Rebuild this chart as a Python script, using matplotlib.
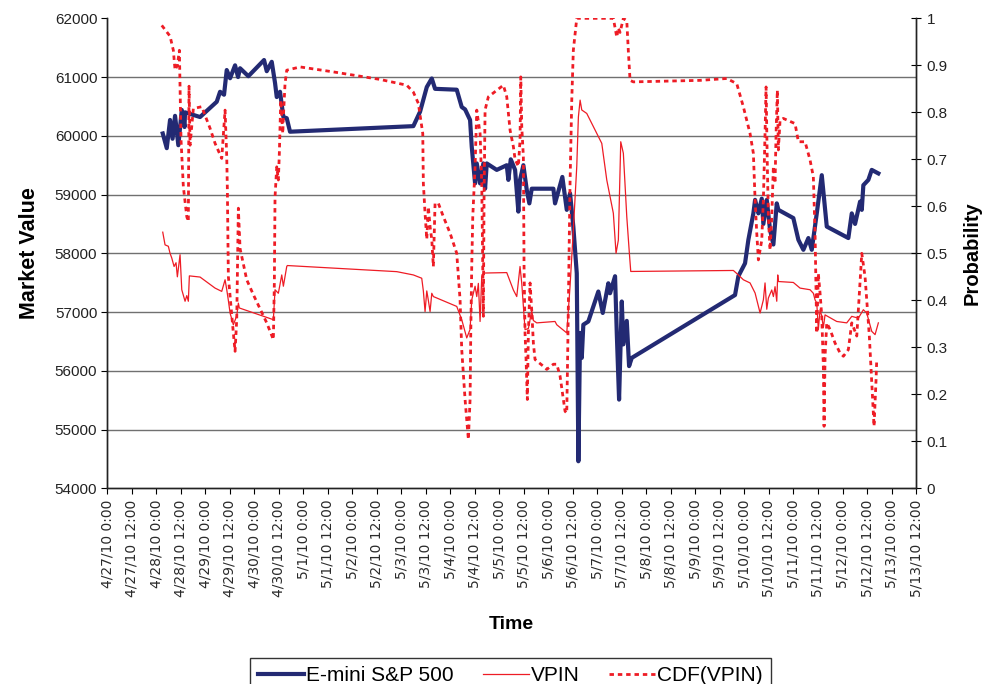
import numpy as np
import matplotlib
matplotlib.use("Agg")
import matplotlib.pyplot as plt
import pandas as pd
from matplotlib.ticker import FuncFormatter

plt.rcParams['font.family'] = ['Liberation Sans', 'DejaVu Sans']

# time axis: days since 4/27/10 0:00
start = pd.Timestamp("2010-04-27 00:00")
tick_times = pd.date_range(start, periods=34, freq="12h")
tick_labels = [f"{t.month}/{t.day}/{t.year % 100:02d} {t.hour}:{t.minute:02d}" for t in tick_times]

# E-mini S&P 500 (left axis)
emini_t = [1.136, 1.218, 1.285, 1.336, 1.387, 1.454, 1.524, 1.58, 1.59, 1.897,
           2.237, 2.305, 2.386, 2.441, 2.509, 2.611, 2.672, 2.713, 2.882, 3.202,
           3.257, 3.359, 3.426, 3.461, 3.528, 3.596, 3.665, 3.732, 6.247, 6.384,
           6.521, 6.623, 6.69, 7.132, 7.234, 7.302, 7.404, 7.438, 7.506, 7.54,
           7.608, 7.675, 7.71, 7.744, 7.948, 8.152, 8.185, 8.234, 8.322, 8.389,
           8.423, 8.491, 8.56, 8.613, 8.662, 9.103, 9.137, 9.286, 9.376, 9.443,
           9.51, 9.58, 9.613, 9.648, 9.682, 9.714, 9.816, 10.02, 10.11, 10.224,
           10.259, 10.361, 10.396, 10.443, 10.498, 10.53, 10.6, 10.647, 10.702, 12.808,
           12.876, 13.012, 13.08, 13.182, 13.217, 13.284, 13.353, 13.386, 13.455, 13.522,
           13.59, 13.659, 13.692, 13.997, 14.1, 14.202, 14.304, 14.373, 14.475, 14.577,
           14.679, 15.119, 15.189, 15.256, 15.358, 15.393, 15.425, 15.527, 15.596, 15.731]
emini_v = [60040, 59790, 60270, 59950, 60340, 59840, 60440, 60150, 60400, 60320,
           60580, 60750, 60700, 61120, 60980, 61200, 61000, 61150, 61015, 61290,
           61100, 61260, 60900, 60660, 60750, 60320, 60300, 60070, 60165, 60410,
           60830, 60976, 60800, 60785, 60490, 60450, 60270, 59815, 59190, 59530,
           59190, 59530, 59100, 59530, 59420, 59500, 59250, 59600, 59420, 58710,
           59250, 59500, 59080, 58850, 59100, 59100, 58850, 59300, 58740, 59020,
           58455, 57660, 54460, 56645, 56220, 56785, 56840, 57350, 56985, 57490,
           57320, 57610, 56645, 55510, 57180, 56450, 56850, 56080, 56220, 57290,
           57610, 57830, 58230, 58680, 58910, 58680, 58930, 58500, 58910, 58400,
           58150, 58850, 58740, 58600, 58230, 58060, 58260, 58060, 58680, 59330,
           58455, 58260, 58680, 58500, 58880, 58740, 59160, 59250, 59420, 59360]

# VPIN (right axis)
vpin_t = [1.136, 1.183, 1.25, 1.285, 1.32, 1.367, 1.407, 1.434, 1.489, 1.524,
          1.591, 1.626, 1.658, 1.679, 1.897, 2.203, 2.339, 2.407, 2.441, 2.474,
          2.509, 2.576, 2.645, 2.678, 2.698, 3.392, 3.426, 3.494, 3.563, 3.596,
          3.665, 3.677, 5.909, 6.247, 6.418, 6.451, 6.486, 6.521, 6.553, 6.588,
          6.623, 6.655, 7.132, 7.234, 7.336, 7.404, 7.438, 7.506, 7.54, 7.573,
          7.608, 7.642, 7.675, 8.152, 8.287, 8.356, 8.423, 8.458, 8.525, 8.593,
          8.662, 8.695, 8.764, 9.137, 9.172, 9.376, 9.443, 9.51, 9.58, 9.613,
          9.648, 9.682, 9.784, 10.09, 10.192, 10.326, 10.381, 10.428, 10.477, 10.53,
          10.6, 10.653, 10.681, 12.774, 12.876, 12.978, 13.114, 13.217, 13.319, 13.386,
          13.42, 13.455, 13.488, 13.557, 13.59, 13.624, 13.659, 13.679, 13.692, 13.997,
          14.134, 14.338, 14.405, 14.44, 14.475, 14.507, 14.542, 14.577, 14.609, 14.644,
          14.882, 15.086, 15.189, 15.323, 15.425, 15.494, 15.596, 15.664, 15.731]
vpin_p = [0.545, 0.518, 0.515, 0.50, 0.49, 0.472, 0.48, 0.45, 0.497, 0.4225,
          0.398, 0.41, 0.398, 0.452, 0.4495, 0.426, 0.419, 0.4437, 0.423, 0.40,
          0.373, 0.348, 0.367, 0.394, 0.3837, 0.3588, 0.4225, 0.415, 0.454, 0.430,
          0.472, 0.474, 0.461, 0.454, 0.447, 0.42, 0.376, 0.42, 0.40, 0.376,
          0.415, 0.408, 0.387, 0.3588, 0.32, 0.338, 0.401, 0.43, 0.408, 0.436,
          0.355, 0.451, 0.458, 0.459, 0.422, 0.408, 0.472, 0.436, 0.3376, 0.34,
          0.378, 0.357, 0.352, 0.355, 0.348, 0.3306, 0.43, 0.55, 0.685, 0.79,
          0.826, 0.805, 0.7976, 0.734, 0.656, 0.5853, 0.50, 0.528, 0.7374, 0.713,
          0.578, 0.50, 0.4614, 0.4635, 0.454, 0.4437, 0.437, 0.4155, 0.373, 0.401,
          0.437, 0.381, 0.405, 0.422, 0.408, 0.429, 0.398, 0.454, 0.44, 0.438,
          0.426, 0.4225, 0.415, 0.401, 0.394, 0.3376, 0.38, 0.366, 0.342, 0.369,
          0.355, 0.352, 0.3659, 0.362, 0.38, 0.373, 0.334, 0.327, 0.352]

# CDF(VPIN) (right axis)
cdf_t = [1.116, 1.285, 1.352, 1.387, 1.434, 1.475, 1.489, 1.509, 1.556, 1.626,
         1.658, 1.672, 1.693, 1.76, 1.931, 2.101, 2.203, 2.339, 2.407, 2.441,
         2.454, 2.474, 2.576, 2.611, 2.645, 2.678, 2.713, 2.849, 2.984, 3.257,
         3.392, 3.412, 3.426, 3.461, 3.494, 3.514, 3.543, 3.584, 3.596, 3.63,
         3.665, 3.936, 4.616, 5.568, 6.113, 6.247, 6.349, 6.439, 6.451, 6.486,
         6.521, 6.553, 6.588, 6.623, 6.655, 6.69, 6.757, 6.859, 6.996, 7.132,
         7.2, 7.234, 7.302, 7.369, 7.404, 7.418, 7.438, 7.459, 7.506, 7.54,
         7.608, 7.642, 7.663, 7.675, 7.689, 7.71, 7.777, 8.083, 8.152, 8.22,
         8.287, 8.322, 8.389, 8.423, 8.438, 8.458, 8.491, 8.505, 8.525, 8.546,
         8.572, 8.593, 8.627, 8.662, 8.695, 8.729, 8.899, 8.968, 9.103, 9.172,
         9.239, 9.307, 9.341, 9.376, 9.396, 9.423, 9.443, 9.478, 9.51, 9.58,
         10.326, 10.396, 10.428, 10.463, 10.53, 10.6, 10.632, 10.667, 10.734, 12.095,
         12.639, 12.843, 12.978, 13.114, 13.182, 13.217, 13.251, 13.284, 13.353, 13.386,
         13.42, 13.441, 13.467, 13.488, 13.522, 13.557, 13.59, 13.624, 13.645, 13.671,
         13.692, 13.726, 13.793, 14.032, 14.1, 14.236, 14.338, 14.405, 14.44, 14.475,
         14.507, 14.542, 14.577, 14.609, 14.624, 14.644, 14.679, 14.746, 14.848, 14.95,
         15.018, 15.119, 15.189, 15.291, 15.393, 15.46, 15.494, 15.547, 15.596, 15.643,
         15.684, 15.698]
cdf_p = [0.985, 0.962, 0.932, 0.89, 0.90, 0.932, 0.854, 0.741, 0.642, 0.578,
         0.5676, 0.8556, 0.73, 0.808, 0.812, 0.766, 0.734, 0.702, 0.8047, 0.7056,
         0.635, 0.451, 0.33, 0.2915, 0.36, 0.596, 0.51, 0.4437, 0.412, 0.352,
         0.3164, 0.437, 0.62, 0.684, 0.656, 0.713, 0.8259, 0.755, 0.79, 0.861,
         0.8896, 0.8966, 0.886, 0.87, 0.8577, 0.843, 0.819, 0.755, 0.649, 0.585,
         0.53, 0.599, 0.557, 0.529, 0.472, 0.6065, 0.6065, 0.578, 0.543, 0.50,
         0.401, 0.295, 0.189, 0.104, 0.189, 0.33, 0.472, 0.578, 0.684, 0.8047,
         0.755, 0.649, 0.472, 0.366, 0.614, 0.805, 0.833, 0.8577, 0.833, 0.762,
         0.727, 0.70, 0.685, 0.741, 0.8754, 0.77, 0.7056, 0.472, 0.33, 0.274,
         0.189, 0.33, 0.437, 0.378, 0.309, 0.274, 0.2597, 0.253, 0.264, 0.264,
         0.239, 0.189, 0.164, 0.16, 0.295, 0.507, 0.649, 0.826, 0.932, 1.0,
         1.0, 0.96, 0.98, 0.97, 1.0, 0.995, 0.93, 0.868, 0.8648, 0.868,
         0.872, 0.861, 0.8117, 0.755, 0.7127, 0.6136, 0.543, 0.486, 0.528, 0.614,
         0.755, 0.854, 0.685, 0.578, 0.507, 0.578, 0.685, 0.649, 0.755, 0.847,
         0.72, 0.783, 0.787, 0.776, 0.7374, 0.7374, 0.6985, 0.663, 0.543, 0.33,
         0.457, 0.415, 0.366, 0.26, 0.132, 0.281, 0.352, 0.338, 0.309, 0.288,
         0.281, 0.295, 0.352, 0.324, 0.50, 0.45, 0.401, 0.324, 0.224, 0.132,
         0.231, 0.274]

navy = '#232a73'
red = '#ee1c25'

fig = plt.figure(figsize=(9.83, 6.84), dpi=100)
ax = fig.add_axes([0.1089, 0.2861, 0.8230, 0.6871])
ax2 = ax.twinx()

l1, = ax.plot(emini_t, emini_v, color=navy, lw=3.0, solid_joinstyle='round', zorder=3)
l2, = ax2.plot(vpin_t, vpin_p, color=red, lw=0.9)
l3, = ax2.plot(cdf_t, cdf_p, color=red, lw=2.0, linestyle=(0, (1.6, 1.4)))

ax.set_xlim(0, 16.5)
ax.set_ylim(54000, 62000)
ax.set_yticks(np.arange(54000, 62001, 1000))
for v in range(55000, 62000, 1000):
    ax.axhline(v, color='#707070', lw=1.0, zorder=1)

ax2.set_ylim(0, 1)
ax2.set_yticks(np.arange(0, 1.01, 0.1))
ax2.yaxis.set_major_formatter(FuncFormatter(lambda v, p: f"{v:.1f}".rstrip('0').rstrip('.') if v else "0"))

ax.set_xticks(np.arange(0, 16.51, 0.5))
ax.set_xticklabels(tick_labels, rotation=90, fontsize=10, family='DejaVu Sans', color='#2a2a2a')

ax.tick_params(axis='y', direction='out', length=4, labelsize=11, pad=3, labelcolor='#222222')
ax.tick_params(axis='x', direction='out', length=4, pad=4)
ax2.tick_params(axis='y', direction='inout', length=7, labelsize=11, pad=4, labelcolor='#222222')

for a in (ax, ax2):
    a.spines['top'].set_visible(False)
    for s in ('left', 'bottom', 'right'):
        a.spines[s].set_color('#222222')
        a.spines[s].set_linewidth(1.0)

ax.set_ylabel("Market Value", fontsize=15.5, fontweight='bold', labelpad=11)
ax2.set_ylabel("Probability", fontsize=14.5, fontweight='bold', labelpad=11)
ax.set_xlabel("Time", fontsize=14, fontweight='bold', labelpad=14)

leg = fig.legend([l1, l2, l3], ["E-mini S&P 500", "VPIN", "CDF(VPIN)"],
                 loc='upper center', bbox_to_anchor=(0.519, 0.053), ncol=3,
                 fontsize=15, frameon=True, fancybox=False, edgecolor='black',
                 handlelength=2.2, handletextpad=0.1, columnspacing=1.4,
                 borderpad=0.4)
leg.get_frame().set_linewidth(1.0)

fig.savefig("out.png", dpi=100)
